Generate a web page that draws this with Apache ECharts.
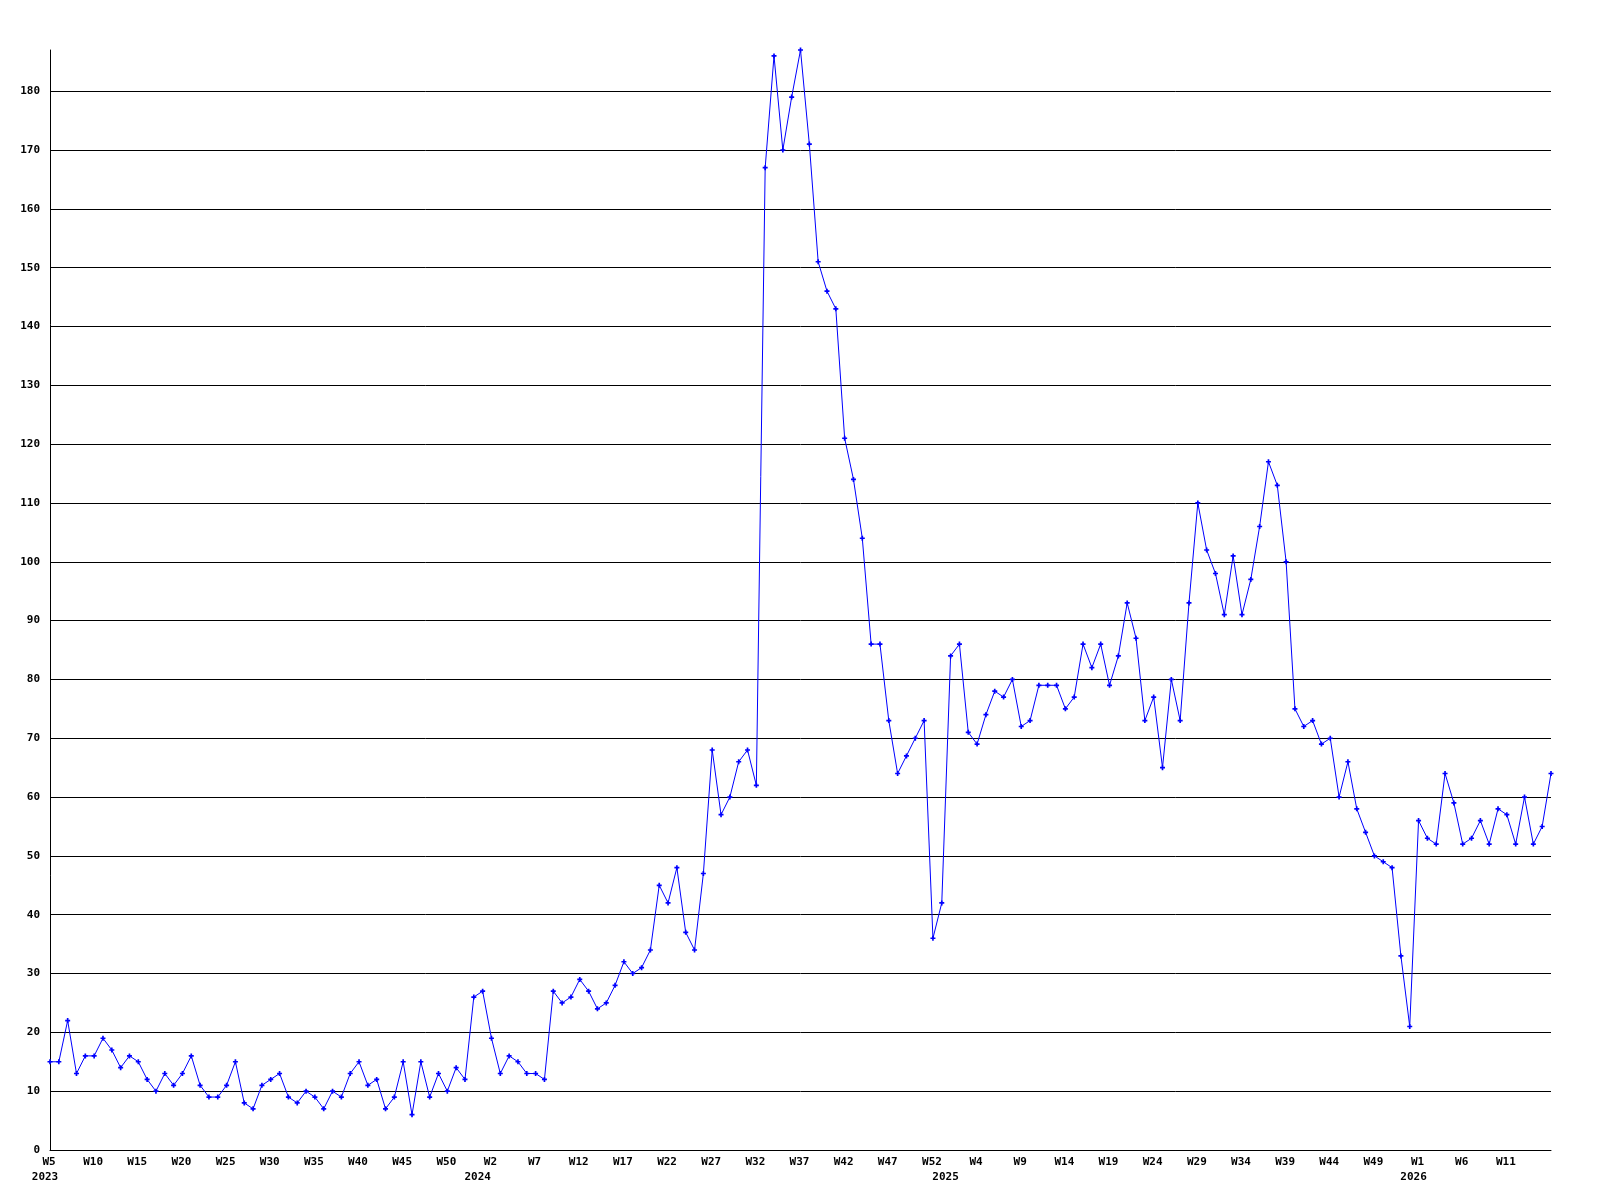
<!DOCTYPE html>
<html>
<head>
<meta charset="utf-8">
<script src="https://cdn.jsdelivr.net/npm/echarts@6/dist/echarts.min.js"></script>
<style>
html,body{margin:0;padding:0;background:#fff;}
#chart{width:1600px;height:1200px;}
</style>
</head>
<body>
<div id="chart"></div>
<script>
// Week ranges per year (first week, last week)
const yearSpans = [
  ['2023', 5, 53],
  ['2024', 1, 53],
  ['2025', 1, 53],
  ['2026', 1, 16]
];

// Weekly values
const values2023 = [15,15,22,13,16,16,19,17,14,16,15,12,10,13,11,13,16,11,9,9,11,15,8,7,11,12,13,9,8,10,9,
  7,10,9,13,15,11,12,7,9,15,6,15,9,13,10,14,12,26];
const values2024 = [27,19,13,16,15,13,13,12,27,25,26,29,27,24,25,28,32,30,31,34,45,42,48,37,34,47,68,57,60,66,68,62,
  167,186,170,179,187,171,151,146,143,121,114,104,86,86,73,64,67,70,73,36,42];
const values2025 = [84,86,71,69,74,78,77,80,72,73,79,79,79,75,77,86,82,86,79,84,93,87,73,77,65,80,73,
  93,110,102,98,91,101,91,97,106,117,113,100,75,72,73,69,70,60,66,58,54,50,49,48,33,21];
const values2026 = [56,53,52,64,59,52,53,56,52,58,57,52,60,52,55,64];

const yTickLabels = ['0','10','20','30','40','50','60','70','80','90','100','110','120','130','140','150','160','170','180'];

// Build categories and year markers
const categories = [];
const yearOf = [];
yearSpans.forEach(([y, a, b]) => {
  for (let w = a; w <= b; w++) { categories.push('W' + w); yearOf.push(y); }
});
const seriesValues = [].concat(values2023, values2024, values2025, values2026);
const lastIdx = categories.length - 1;

const font = {fontFamily: 'DejaVu Sans Mono', fontWeight: 'bold', fontSize: 11, color: '#000'};

const chart = echarts.init(document.getElementById('chart'), null, {renderer: 'canvas'});
chart.setOption({
  backgroundColor: '#ffffff',
  animation: false,
  grid: {left: 50, right: 49, top: 50, bottom: 50, containLabel: false},
  xAxis: [
    {
      type: 'category',
      data: categories,
      boundaryGap: false,
      axisLine: {show: true, lineStyle: {color: '#000', width: 1}},
      axisTick: {show: false},
      splitLine: {show: false},
      axisLabel: Object.assign({
        interval: function (i) { return i % 5 === 0 && i < lastIdx - 2; },
        margin: 7,
        padding: [0, 2, 0, 0]
      }, font)
    },
    {
      type: 'category',
      data: categories,
      position: 'bottom',
      offset: 15,
      boundaryGap: false,
      axisLine: {show: false},
      axisTick: {show: false},
      splitLine: {show: false},
      axisLabel: Object.assign({
        interval: 0,
        margin: 7,
        padding: [0, 10, 0, 0],
        formatter: function (v, i) {
          return (i === 0 || (v === 'W1')) ? yearOf[i] : '';
        }
      }, font)
    }
  ],
  yAxis: {
    type: 'value',
    min: 0,
    max: 187,
    interval: 10,
    axisLine: {show: true, lineStyle: {color: '#000', width: 1}},
    axisTick: {show: false},
    splitLine: {show: true, showMaxLine: false, lineStyle: {color: '#000', width: 1}},
    axisLabel: Object.assign({
      margin: 10,
      showMaxLabel: false,
      formatter: function (v) {
        const s = String(v);
        return yTickLabels.indexOf(s) >= 0 ? s : '';
      }
    }, font)
  },
  series: [{
    type: 'line',
    data: seriesValues,
    xAxisIndex: 0,
    symbol: 'path://M1,0H2V1H3V2H2V3H1V2H0V1H1Z',
    symbolSize: 5,
    showAllSymbol: true,
    clip: false,
    lineStyle: {color: '#0000ff', width: 1},
    itemStyle: {color: '#0000ff'},
    emphasis: {disabled: true}
  }]
});
</script>
</body>
</html>
